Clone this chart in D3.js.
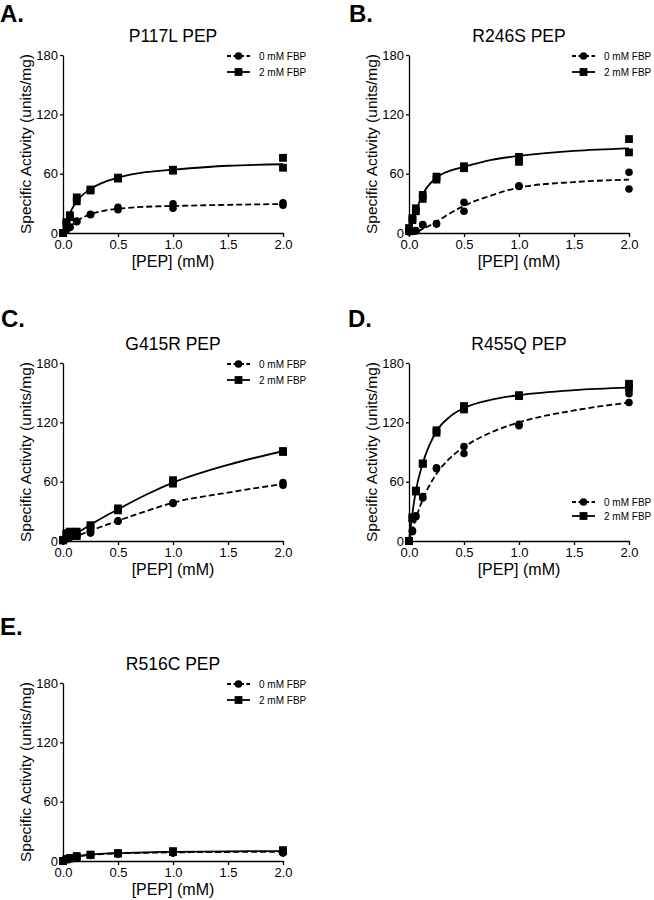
<!DOCTYPE html>
<html>
<head>
<meta charset="utf-8">
<script src="https://cdn.jsdelivr.net/npm/d3@7"></script>
<style>
  body { margin: 0; background: #fff; }
  text { font-family: "Liberation Sans", Arial, sans-serif; fill: #000; }
</style>
</head>
<body>
<div id="chart"></div>
<script>
// PEP concentrations (mM) of the measured points
var xConc = [0, 0.03125, 0.0625, 0.125, 0.25, 0.5, 1, 2];
var fitX = [0, 0.03125, 0.0625, 0.125, 0.25, 0.375, 0.5, 0.75, 1, 1.5, 2];

var xTicks = [0, 0.5, 1, 1.5, 2];
var yTicks = [0, 60, 120, 180];
var seriesNames = ["0 mM FBP", "2 mM FBP"];

// P117L
var p117l_0_rep1 = [0, 3.5, 6, 12, 19, 26, 29.5, 30.5];
var p117l_0_rep2 = [0, 3, 5.5, 11.5, 18.5, 23.5, 25, 28];
var p117l_2_rep1 = [0, 11, 18, 36, 44, 56, 64, 76];
var p117l_2_rep2 = [0, 9, 16, 32, 43, 55, 63, 66];
var p117l_0_fit = [0, 3.5, 6.5, 12, 19, 22.5, 24.5, 26.5, 27.3, 28.5, 29.3];
var p117l_2_fit = [0, 11.5, 20, 32, 44.5, 51.5, 56, 61.5, 64, 68, 69.5];

// R246S
var r246s_0_rep1 = [3, 2, 2.5, 8.5, 9.5, 31, 47.8, 61.5];
var r246s_0_rep2 = [1, 1.5, 2, 8, 9, 22, 47, 44.5];
var r246s_2_rep1 = [5, 15, 25, 38.5, 57, 67.5, 77, 95];
var r246s_2_rep2 = [2, 13, 22, 34.5, 54, 65.5, 72, 81.5];
var r246s_0_fit = [0, 0.5, 1, 4, 11.5, 20, 27.5, 38, 46, 51.5, 54];
var r246s_2_fit = [0, 10, 21.5, 39, 56, 63, 67, 74, 78, 83, 85.6];

// G415R
var g415r_0_rep1 = [0.5, 2.5, 4, 6, 8.8, 20.5, 38.7, 59];
var g415r_0_rep2 = [0.3, 2, 3.5, 5, 8, 20, 38, 56.5];
var g415r_2_rep1 = [1, 8, 9.5, 9.5, 16, 33, 61.5, 91];
var g415r_2_rep2 = [0.5, 6, 8, 5, 13, 31, 58, 90];
var g415r_0_fit = [0, 1.2, 2.5, 5, 10.5, 15.5, 20.5, 30, 38.7, 49, 57.6];
var g415r_2_fit = [0, 2, 4, 8, 16.5, 24.5, 32, 46.5, 59, 77, 91];

// R455Q
var r455q_0_rep1 = [0, 10.5, 25.5, 45, 74, 95.5, 118, 149];
var r455q_0_rep2 = [0, 9.5, 24.5, 43.5, 73, 88.5, 116.5, 140];
var r455q_2_rep1 = [0, 24, 51, 78.5, 112, 136.5, 147.5, 159];
var r455q_2_rep2 = [0, 22.5, 50, 78, 109.5, 133, 146.5, 155];
var r455q_0_fit = [0, 12, 23, 42, 68, 84, 95, 110, 120, 132, 140];
var r455q_2_fit = [0, 28, 51, 78.5, 111, 126, 134.5, 143, 147.5, 152.5, 155];

// R516C
var r516c_0_rep1 = [0, 2, 3, 4.5, 6, 7.5, 8.5, 9];
var r516c_0_rep2 = [0, 1.5, 2.5, 4, 5.5, 7, 8, 8];
var r516c_2_rep1 = [0, 2, 3, 5, 6.5, 8, 10, 11];
var r516c_2_rep2 = [0, 1.5, 2.5, 3.5, 6, 7.5, 9, 10];
var r516c_0_fit = [0, 1.8, 3, 4.5, 6.2, 7.2, 7.7, 8.3, 8.7, 9.1, 9.3];
var r516c_2_fit = [0, 2, 3.2, 4.8, 6.5, 7.5, 8, 8.8, 9.3, 9.8, 10];

var panels = [
  { letter: "A.", title: "P117L PEP", left: 63, top: 55, lx: 0, ly: 22, legX: 227, legY: 56, legDy: 16,
    reps0: [p117l_0_rep1, p117l_0_rep2], reps2: [p117l_2_rep1, p117l_2_rep2], fit0: p117l_0_fit, fit2: p117l_2_fit },
  { letter: "B.", title: "R246S PEP", left: 409, top: 55, lx: 349, ly: 22, legX: 572, legY: 56, legDy: 16,
    reps0: [r246s_0_rep1, r246s_0_rep2], reps2: [r246s_2_rep1, r246s_2_rep2], fit0: r246s_0_fit, fit2: r246s_2_fit },
  { letter: "C.", title: "G415R PEP", left: 63, top: 363, lx: 1, ly: 327, legX: 227, legY: 364, legDy: 16,
    reps0: [g415r_0_rep1, g415r_0_rep2], reps2: [g415r_2_rep1, g415r_2_rep2], fit0: g415r_0_fit, fit2: g415r_2_fit },
  { letter: "D.", title: "R455Q PEP", left: 409, top: 363, lx: 348, ly: 327, legX: 572, legY: 502, legDy: 14,
    reps0: [r455q_0_rep1, r455q_0_rep2], reps2: [r455q_2_rep1, r455q_2_rep2], fit0: r455q_0_fit, fit2: r455q_2_fit },
  { letter: "E.", title: "R516C PEP", left: 63, top: 683, lx: 0, ly: 635, legX: 227, legY: 684, legDy: 16,
    reps0: [r516c_0_rep1, r516c_0_rep2], reps2: [r516c_2_rep1, r516c_2_rep2], fit0: r516c_0_fit, fit2: r516c_2_fit }
];

var width = 654,
    height = 900,
    plotW = 220,
    plotH = 178;

var svg = d3.select("#chart")
    .append("svg")
    .attr("width", width)
    .attr("height", height);

var dash = "6,3";

function drawMarker(g, kind, cx, cy) {
    if (kind === 0) {
        g.append("circle").attr("cx", cx).attr("cy", cy).attr("r", 3.8).attr("fill", "#000");
    } else {
        g.append("rect").attr("x", cx - 3.9).attr("y", cy - 3.9)
            .attr("width", 7.8).attr("height", 7.8).attr("fill", "#000");
    }
}

panels.forEach(function (p) {
    var x = d3.scaleLinear().domain([0, 2]).range([p.left, p.left + plotW]);
    var y = d3.scaleLinear().domain([0, 180]).range([p.top + plotH, p.top]);

    svg.append("text")
        .text(p.letter)
        .attr("x", p.lx)
        .attr("y", p.ly)
        .attr("font-size", 24)
        .attr("font-weight", "bold");

    svg.append("text")
        .text(p.title)
        .attr("x", p.left + plotW / 2)
        .attr("y", p.top - 13)
        .attr("text-anchor", "middle")
        .attr("font-size", 17.5);

    var yAxis = svg.append("g")
        .attr("transform", "translate(" + p.left + ",0)")
        .call(d3.axisLeft(y).tickValues(yTicks).tickSize(3).tickSizeOuter(0).tickPadding(2));
    var xAxis = svg.append("g")
        .attr("transform", "translate(0," + (p.top + plotH) + ")")
        .call(d3.axisBottom(x).tickValues(xTicks).tickFormat(d3.format(".1f"))
            .tickSize(4).tickSizeOuter(0).tickPadding(3));
    [xAxis, yAxis].forEach(function (a) {
        a.selectAll("path, line").attr("stroke", "#000").attr("stroke-width", 1.3);
        a.selectAll("text").attr("font-size", 13).attr("fill", "#000")
            .style("font-family", "'Liberation Sans', Arial, sans-serif");
    });

    svg.append("text")
        .text("[PEP] (mM)")
        .attr("x", p.left + plotW / 2)
        .attr("y", p.top + plotH + 34)
        .attr("text-anchor", "middle")
        .attr("font-size", 16);

    svg.append("text")
        .text("Specific Activity (units/mg)")
        .attr("transform", "translate(" + (p.left - 32) + "," + (p.top + plotH / 2) + ") rotate(-90)")
        .attr("text-anchor", "middle")
        .attr("font-size", 15.5);

    var line = d3.line()
        .x(function (d, i) { return x(fitX[i]); })
        .y(function (d) { return y(d); })
        .curve(d3.curveMonotoneX);

    svg.append("path").datum(p.fit0)
        .attr("d", line).attr("fill", "none")
        .attr("stroke", "#000").attr("stroke-width", 1.8).attr("stroke-dasharray", dash);
    svg.append("path").datum(p.fit2)
        .attr("d", line).attr("fill", "none")
        .attr("stroke", "#000").attr("stroke-width", 1.8);

    var pts = svg.append("g");
    [p.reps0, p.reps2].forEach(function (reps, k) {
        reps.forEach(function (rep) {
            rep.forEach(function (v, i) {
                drawMarker(pts, k, x(xConc[i]), y(v));
            });
        });
    });

    // legend
    var leg = svg.append("g");
    seriesNames.forEach(function (name, k) {
        var ly = p.legY + k * p.legDy;
        leg.append("line")
            .attr("x1", p.legX).attr("x2", p.legX + 23)
            .attr("y1", ly).attr("y2", ly)
            .attr("stroke", "#000").attr("stroke-width", 1.8)
            .attr("stroke-dasharray", k === 0 ? "4,2.5" : null);
        drawMarker(leg, k, p.legX + 11.5, ly);
        leg.append("text")
            .text(name)
            .attr("x", p.legX + 32)
            .attr("y", ly + 3.6)
            .attr("font-size", 10);
    });
});
</script>
</body>
</html>
